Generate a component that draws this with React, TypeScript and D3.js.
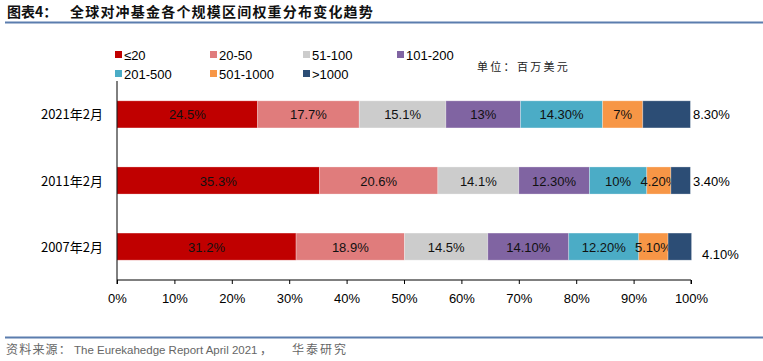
import * as React from "react";
import * as d3 from "d3";

const categories = ["2021年2月", "2011年2月", "2007年2月"];
const seriesNames = ["≤20", "20-50", "51-100", "101-200", "201-500", "501-1000", ">1000"];
const seriesColors = ["#C00000", "#E07C7C", "#CCCCCC", "#8064A2", "#4BACC6", "#F79646", "#2C4D75"];
const values2021 = [24.5, 17.7, 15.1, 13, 14.3, 7, 8.3];
const values2011 = [35.3, 20.6, 14.1, 12.3, 10, 4.2, 3.4];
const values2007 = [31.2, 18.9, 14.5, 14.1, 12.2, 5.1, 4.1];
const labels2021 = ["24.5%", "17.7%", "15.1%", "13%", "14.30%", "7%", "8.30%"];
const labels2011 = ["35.3%", "20.6%", "14.1%", "12.30%", "10%", "4.20%", "3.40%"];
const labels2007 = ["31.2%", "18.9%", "14.5%", "14.10%", "12.20%", "5.10%", "4.10%"];
const xTicks = [0, 10, 20, 30, 40, 50, 60, 70, 80, 90, 100];

const rows = [values2021, values2011, values2007];
const rowLabels = [labels2021, labels2011, labels2007];

const W = 763;
const H = 361;
const font = "'Liberation Sans', Arial, sans-serif";
const cjk = "'Noto Sans CJK SC', 'Liberation Sans', sans-serif";

export default function App() {
  const x = d3.scaleLinear().domain([0, 100]).range([117, 691]);
  const y = d3.scaleBand().domain(categories).range([81, 280]).paddingInner(0.59).paddingOuter(0.3);
  const bh = y.bandwidth();

  const axisRef = (g: SVGGElement | null) => {
    if (!g) return;
    const sel = d3.select(g);
    sel.call(d3.axisBottom(x).tickValues(xTicks).tickSize(4).tickFormat((d) => d + "%"));
    sel.select(".domain").attr("stroke", "#000").attr("d", `M${x(0)},4V0H${x(100)}V4`);
    sel.selectAll(".tick line").attr("stroke", "#000");
    sel.selectAll(".tick text").attr("font-family", font).attr("font-size", 13).attr("fill", "#000").attr("dy", "1.2em");
  };

  const legendX = [115, 210, 303, 397];

  return (
    <svg width={W} height={H} style={{ position: "absolute", left: 0, top: 0, background: "#fff" }}>
      <text x={7} y={17} fontFamily={cjk} fontWeight="bold" fontSize={14} fill="#111">图表4：</text>
      <text x={70} y={17} fontFamily={cjk} fontWeight="bold" fontSize={14} fill="#111" letterSpacing={1.2}>全球对冲基金各个规模区间权重分布变化趋势</text>
      <line x1={5} x2={W} y1={22.5} y2={22.5} stroke="#5B7DAE" strokeWidth={2} />

      {seriesNames.map((s, i) => {
        const lx = legendX[i % 4];
        const ly = i < 4 ? 55 : 74;
        return (
          <g key={s}>
            <rect x={lx} y={ly - 4} width={7} height={7} fill={seriesColors[i]} />
            <text x={lx + 9} y={ly + 5} fontFamily={font} fontSize={13} fill="#000">{s}</text>
          </g>
        );
      })}
      <text x={477} y={71} fontFamily={cjk} fontSize={11} fill="#222" letterSpacing={2.3}>单位：百万美元</text>

      {rows.map((vals, r) => {
        const cat = categories[r];
        const y0 = y(cat) as number;
        let acc = 0;
        return (
          <g key={cat}>
            <text x={103} y={y0 + bh / 2 + 5} textAnchor="end" fontFamily={cjk} fontSize={13} fill="#000">{cat}</text>
            {vals.map((v, i) => {
              const x0 = x(acc);
              acc += v;
              const x1 = x(acc);
              const last = i === vals.length - 1;
              const lbl = rowLabels[r][i];
              return (
                <g key={i}>
                  <rect x={x0} y={y0} width={x1 - x0} height={bh} fill={seriesColors[i]} stroke="#fff" strokeOpacity={0.35} strokeWidth={0.8} />
                  {last ? (
                    <text x={r === 2 ? x(100) + 11 : x(100) + 2} y={y0 + bh / 2 + 5 + (r === 2 ? 7 : 0)} fontFamily={font} fontSize={13} fill="#000">{lbl}</text>
                  ) : (
                    <text x={(x0 + x1) / 2} y={y0 + bh / 2 + 5} textAnchor="middle" fontFamily={font} fontSize={13} fill="#111">{lbl}</text>
                  )}
                </g>
              );
            })}
          </g>
        );
      })}

      <line x1={x(0)} x2={x(0)} y1={81} y2={280} stroke="#000" />
      <g ref={axisRef} transform="translate(0,280)" />

      <line x1={5} x2={W} y1={337.5} y2={337.5} stroke="#5B7DAE" strokeWidth={2} />
      <text y={354} fill="#666" fontSize={12}>
        <tspan x={6} fontFamily={cjk} letterSpacing={1.2}>资料来源：</tspan>
        <tspan x={74} fontFamily={font} fontSize={11.5}>The Eurekahedge Report April 2021</tspan>
        <tspan x={260} fontFamily={cjk}>，</tspan>
        <tspan x={292} fontFamily={cjk} letterSpacing={2}>华泰研究</tspan>
      </text>
    </svg>
  );
}
